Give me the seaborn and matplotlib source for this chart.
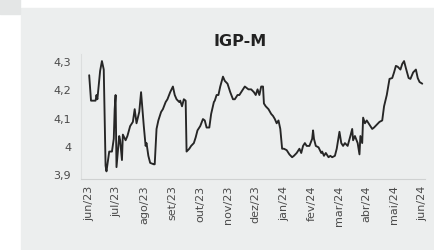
import matplotlib
matplotlib.use("Agg")
import matplotlib.pyplot as plt
import matplotlib.patches as patches
import seaborn as sns
import pandas as pd

# days after 2023-06-01 and IGP-M expectation values
start_date = "2023-06-01"
days = [0, 2, 7, 8, 9, 12, 14, 16, 18, 19, 22, 25, 27, 28, 29, 30, 33, 34, 36, 37,
        40, 42, 45, 48, 50, 52, 55, 57, 60, 62, 63, 65, 67, 71, 72, 74, 76, 79, 81, 84,
        86, 89, 92, 94, 96, 99, 100, 102, 104, 106, 107, 110, 112, 115, 117, 119, 122, 125, 127, 129,
        132, 134, 137, 138, 140, 142, 144, 147, 149, 152, 155, 158, 160, 163, 165, 168, 171, 175, 178, 181,
        183, 185, 187, 189, 191, 192, 194, 197, 200, 202, 204, 206, 208, 210, 212, 214, 217, 220, 223, 225,
        228, 231, 233, 235, 237, 239, 242, 245, 246, 247, 249, 252, 255, 256, 258, 260, 263, 265, 267, 270,
        272, 275, 277, 279, 281, 284, 287, 289, 290, 292, 295, 297, 298, 300, 301, 303, 305, 308, 311, 313,
        316, 319, 322, 324, 327, 330, 333, 335, 337, 339, 342, 344, 346, 348, 351, 353, 356, 359, 361, 363,
        366]
values = [4.25, 4.16, 4.16, 4.18, 4.165, 4.265, 4.30, 4.27, 3.93, 3.91, 3.98, 3.98, 4.025, 4.13, 4.18, 3.925, 4.035, 4.02, 3.95, 4.04,
          4.02, 4.035, 4.07, 4.085, 4.13, 4.08, 4.12, 4.19, 4.07, 4.00, 4.01, 3.965, 3.94, 3.935, 3.935, 4.06, 4.09, 4.12, 4.13, 4.155,
          4.165, 4.19, 4.21, 4.18, 4.165, 4.155, 4.16, 4.14, 4.165, 4.16, 3.98, 3.99, 4.00, 4.01, 4.03, 4.055, 4.07, 4.095, 4.09, 4.065,
          4.065, 4.113, 4.155, 4.16, 4.18, 4.18, 4.21, 4.245, 4.23, 4.22, 4.19, 4.165, 4.165, 4.18, 4.18, 4.195, 4.21, 4.20, 4.20, 4.19,
          4.18, 4.20, 4.18, 4.21, 4.21, 4.15, 4.14, 4.13, 4.113, 4.106, 4.095, 4.08, 4.09, 4.06, 3.99, 3.99, 3.985, 3.97, 3.96, 3.965,
          3.975, 3.99, 3.975, 4.00, 4.01, 4.00, 4.00, 4.025, 4.055, 4.025, 4.00, 3.995, 3.975, 3.98, 3.965, 3.975, 3.96, 3.965, 3.96, 3.965,
          3.99, 4.05, 4.01, 4.00, 4.01, 4.00, 4.035, 4.06, 4.02, 4.035, 4.01, 3.97, 4.035, 4.01, 4.10, 4.08, 4.09, 4.075, 4.06, 4.065,
          4.075, 4.085, 4.09, 4.14, 4.18, 4.237, 4.24, 4.26, 4.283, 4.28, 4.27, 4.29, 4.30, 4.275, 4.24, 4.237, 4.26, 4.27, 4.24, 4.226,
          4.22]

month_labels = ["jun/23", "jul/23", "ago/23", "set/23", "out/23", "nov/23", "dez/23",
                "jan/24", "fev/24", "mar/24", "abr/24", "mai/24", "jun/24"]
y_ticks = [3.9, 4.0, 4.1, 4.2, 4.3]
y_labels = ["3,9", "4", "4,1", "4,2", "4,3"]

t0 = pd.Timestamp(start_date)
df = pd.DataFrame({"data": t0 + pd.to_timedelta(days, unit="D"), "igpm": values})
month_ticks = pd.date_range(start_date, periods=len(month_labels), freq="MS")

sns.set_style("white")
fig = plt.figure(figsize=(4.34, 2.51), dpi=100)
fig.patch.set_facecolor("white")

# gray panel behind the chart
fig.patches.append(patches.Rectangle((21 / 434, 0), 1, (251 - 9) / 251,
                                     transform=fig.transFigure, color="#eceeee", zorder=-5))
fig.patches.append(patches.Rectangle((0, 1 - 15 / 251), 20 / 434, 15 / 251,
                                     transform=fig.transFigure, color="#e4e6e6", zorder=-5))

ax = fig.add_axes([81 / 434, 1 - 180 / 251, 344 / 434, 125 / 251])
ax.set_zorder(1)
ax.set_facecolor("none")
sns.lineplot(data=df, x="data", y="igpm", ax=ax, color="#262626", linewidth=1.35)

ax.set_xlim(t0 - pd.Timedelta(days=9), t0 + pd.Timedelta(days=369))
ax.set_ylim(3.883, 4.325)
ax.set_xticks(month_ticks)
ax.set_xticklabels(month_labels, rotation=90)
ax.set_yticks(y_ticks)
ax.set_yticklabels(y_labels)
ax.tick_params(axis="both", length=0, labelsize=8, colors="#4a4a4a")
ax.tick_params(axis="y", pad=7)
ax.tick_params(axis="x", pad=4)
ax.set_xlabel("")
ax.set_ylabel("")

for side in ["top", "right"]:
    ax.spines[side].set_visible(False)
ax.spines["left"].set_color("#dcdede")
ax.spines["bottom"].set_color("#cfd1d1")
ax.spines["left"].set_linewidth(0.8)
ax.spines["bottom"].set_linewidth(0.8)

fig.text(240 / 434, 1 - 42 / 251, "IGP-M", ha="center", va="center",
         fontsize=11.5, fontweight="bold", color="#222222")

fig.savefig("out.png", dpi=100, facecolor=fig.get_facecolor())
